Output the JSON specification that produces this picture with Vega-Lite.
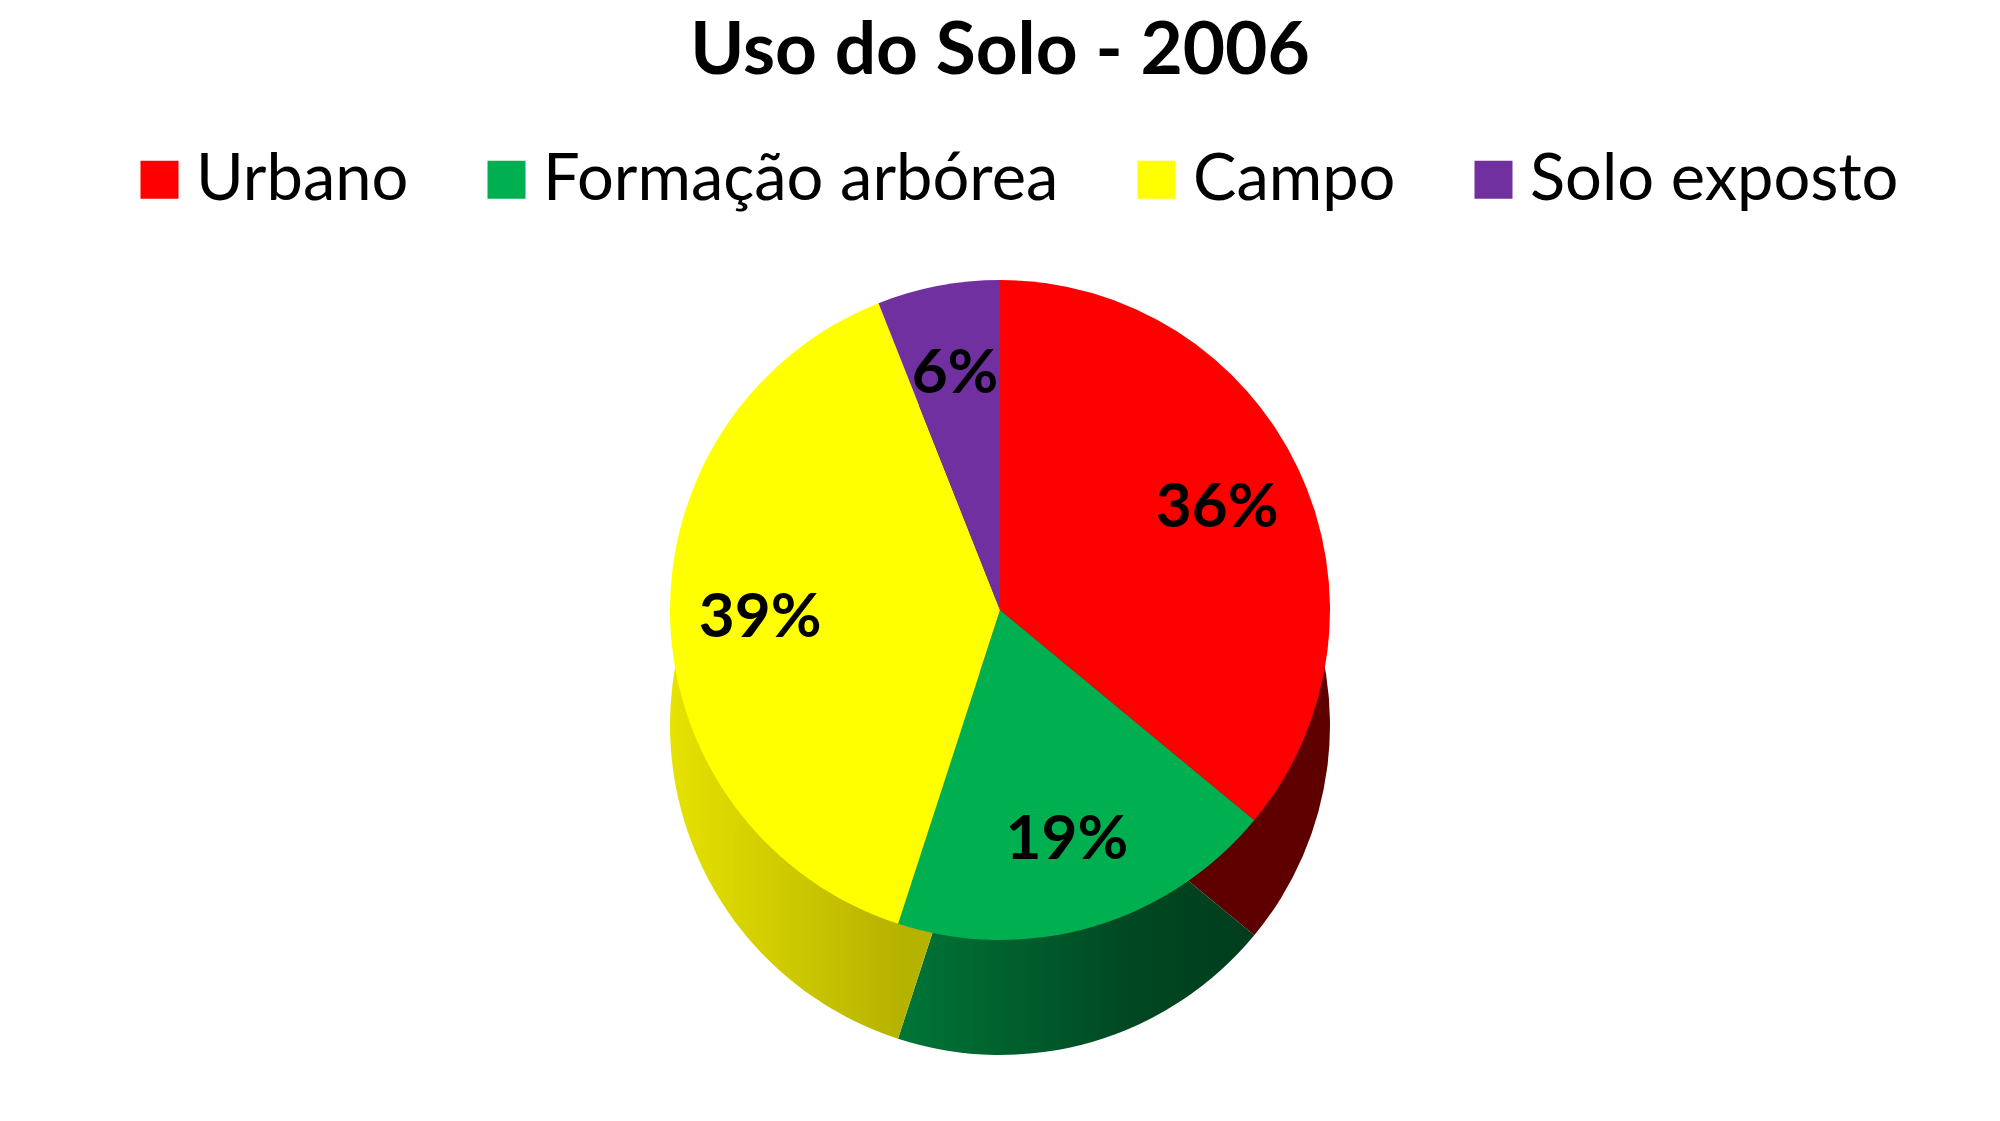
{
  "$schema": "https://vega.github.io/schema/vega-lite/v6.json",
  "width": 2000,
  "height": 1121,
  "autosize": {"type": "fit", "contains": "padding"},
  "padding": {"top": 16, "left": 0, "right": 0, "bottom": 0},
  "background": "white",
  "title": {
    "text": "Uso do Solo - 2006",
    "font": "Lato",
    "fontSize": 73,
    "fontWeight": "bold",
    "color": "black",
    "anchor": "middle",
    "offset": 0
  },
  "data": {
    "values": [
      {"uso": "Urbano", "frac": 0.36, "ordem": 1},
      {"uso": "Formação arbórea", "frac": 0.19, "ordem": 2},
      {"uso": "Campo", "frac": 0.39, "ordem": 3},
      {"uso": "Solo exposto", "frac": 0.06, "ordem": 4}
    ]
  },
  "encoding": {
    "theta": {"field": "frac", "type": "quantitative", "stack": true},
    "order": {"field": "ordem", "type": "quantitative"}
  },
  "layer": [
    {
      "description": "Side wall of the disc: a shaded copy drawn lower down",
      "mark": {"type": "arc", "outerRadius": 330, "yOffset": 120},
      "encoding": {
        "color": {
          "condition": [
            {
              "test": "datum.uso === 'Campo'",
              "value": {
                "gradient": "linear",
                "x1": 0, "x2": 1, "y1": 0, "y2": 0,
                "stops": [
                  {"offset": 0, "color": "#e6e200"},
                  {"offset": 0.7, "color": "#b6b200"}
                ]
              }
            },
            {
              "test": "datum.uso === 'Formação arbórea'",
              "value": {
                "gradient": "linear",
                "x1": 0, "x2": 1, "y1": 0, "y2": 0,
                "stops": [
                  {"offset": 0, "color": "#007638"},
                  {"offset": 0.65, "color": "#004822"},
                  {"offset": 1, "color": "#003c1c"}
                ]
              }
            },
            {"test": "datum.uso === 'Solo exposto'", "value": "#3a1a56"}
          ],
          "value": "#5e0000"
        }
      }
    },
    {
      "mark": {"type": "arc", "outerRadius": 330, "yOffset": 5},
      "encoding": {
        "color": {
          "field": "uso",
          "type": "nominal",
          "scale": {
            "domain": ["Urbano", "Formação arbórea", "Campo", "Solo exposto"],
            "range": ["#ff0000", "#00b050", "#ffff00", "#7030a0"]
          },
          "legend": {
            "title": null,
            "orient": "none",
            "direction": "horizontal",
            "legendX": 127,
            "legendY": 58,
            "symbolType": "square",
            "symbolSize": 1444,
            "symbolStrokeWidth": 0,
            "labelFont": "Lato",
            "labelFontSize": 65,
            "labelColor": "black",
            "labelOffset": 4,
            "columnPadding": 65,
            "labelLimit": 1000
          }
        }
      }
    },
    {
      "mark": {
        "type": "text",
        "radius": 240,
        "yOffset": 5,
        "font": "Lato",
        "fontSize": 62,
        "fontWeight": "bold",
        "color": "black"
      },
      "encoding": {
        "text": {"field": "frac", "type": "quantitative", "format": ".0%"}
      }
    }
  ]
}
